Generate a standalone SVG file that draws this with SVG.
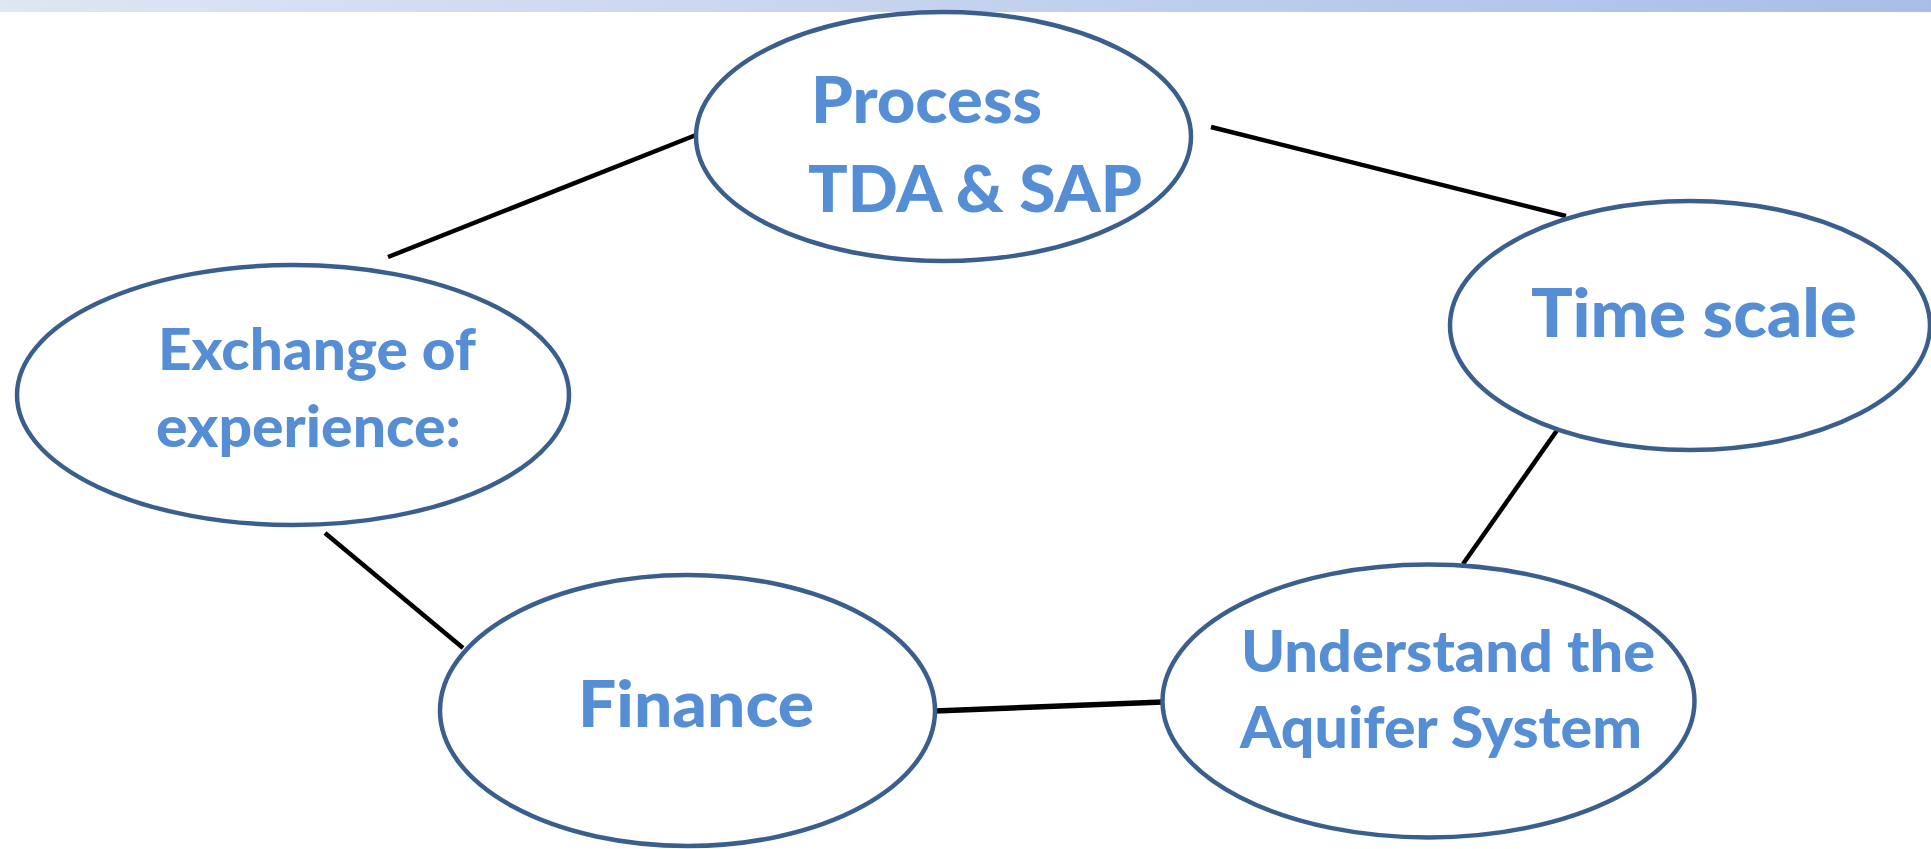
<svg xmlns="http://www.w3.org/2000/svg" width="1931" height="849" viewBox="0 0 1931 849">
<defs>
<linearGradient id="bar" x1="0" y1="0" x2="1" y2="0">
<stop offset="0" stop-color="#dfe6f4"/>
<stop offset="1" stop-color="#a8bee8"/>
</linearGradient>
</defs>
<style>
.node ellipse{fill:#ffffff;stroke:#3a5f8e;stroke-width:4.5}
.lbl{font-family:Lato,"Open Sans","Liberation Sans",sans-serif;font-weight:900;fill:#558ed5}
.conn line{stroke:#000000;stroke-width:4.5;stroke-linecap:butt}
</style>
<rect x="0" y="0" width="1931" height="849" fill="#ffffff"/>
<rect x="0" y="0" width="1931" height="12" fill="url(#bar)"/>
<g id="connectors" class="conn">
<line x1="388" y1="257" x2="696" y2="135"/>
<line x1="1211" y1="127" x2="1566" y2="216"/>
<line x1="1565" y1="419" x2="1463" y2="564"/>
<line x1="325" y1="533" x2="463" y2="648"/>
<line x1="935" y1="711" x2="1163" y2="702" style="stroke-width:5.5"/>
</g>
<g id="node-process" class="node">
<ellipse cx="943.5" cy="136.5" rx="247.5" ry="124.5"/>
<text class="lbl" x="811" y="123" font-size="64" textLength="231" lengthAdjust="spacingAndGlyphs">Process</text>
<text class="lbl" x="808" y="212" font-size="64" textLength="334" lengthAdjust="spacingAndGlyphs">TDA &amp; SAP</text>
</g>
<g id="node-timescale" class="node">
<ellipse cx="1690" cy="325.5" rx="240" ry="124.5"/>
<text class="lbl" x="1531" y="337" font-size="66" textLength="326" lengthAdjust="spacingAndGlyphs">Time scale</text>
</g>
<g id="node-exchange" class="node">
<ellipse cx="293" cy="395" rx="276" ry="130"/>
<text class="lbl" x="158" y="370" font-size="57" textLength="318" lengthAdjust="spacingAndGlyphs">Exchange of</text>
<text class="lbl" x="156" y="447" font-size="57" textLength="305" lengthAdjust="spacingAndGlyphs">experience:</text>
</g>
<g id="node-finance" class="node">
<ellipse cx="687.5" cy="710.5" rx="247.5" ry="135.5"/>
<text class="lbl" x="578" y="727" font-size="64" textLength="236" lengthAdjust="spacingAndGlyphs">Finance</text>
</g>
<g id="node-aquifer" class="node">
<ellipse cx="1428.5" cy="701" rx="266" ry="136.5"/>
<text class="lbl" x="1241" y="672" font-size="57" textLength="414" lengthAdjust="spacingAndGlyphs">Understand the</text>
<text class="lbl" x="1240" y="748" font-size="57" textLength="402" lengthAdjust="spacingAndGlyphs">Aquifer System</text>
</g>
</svg>
